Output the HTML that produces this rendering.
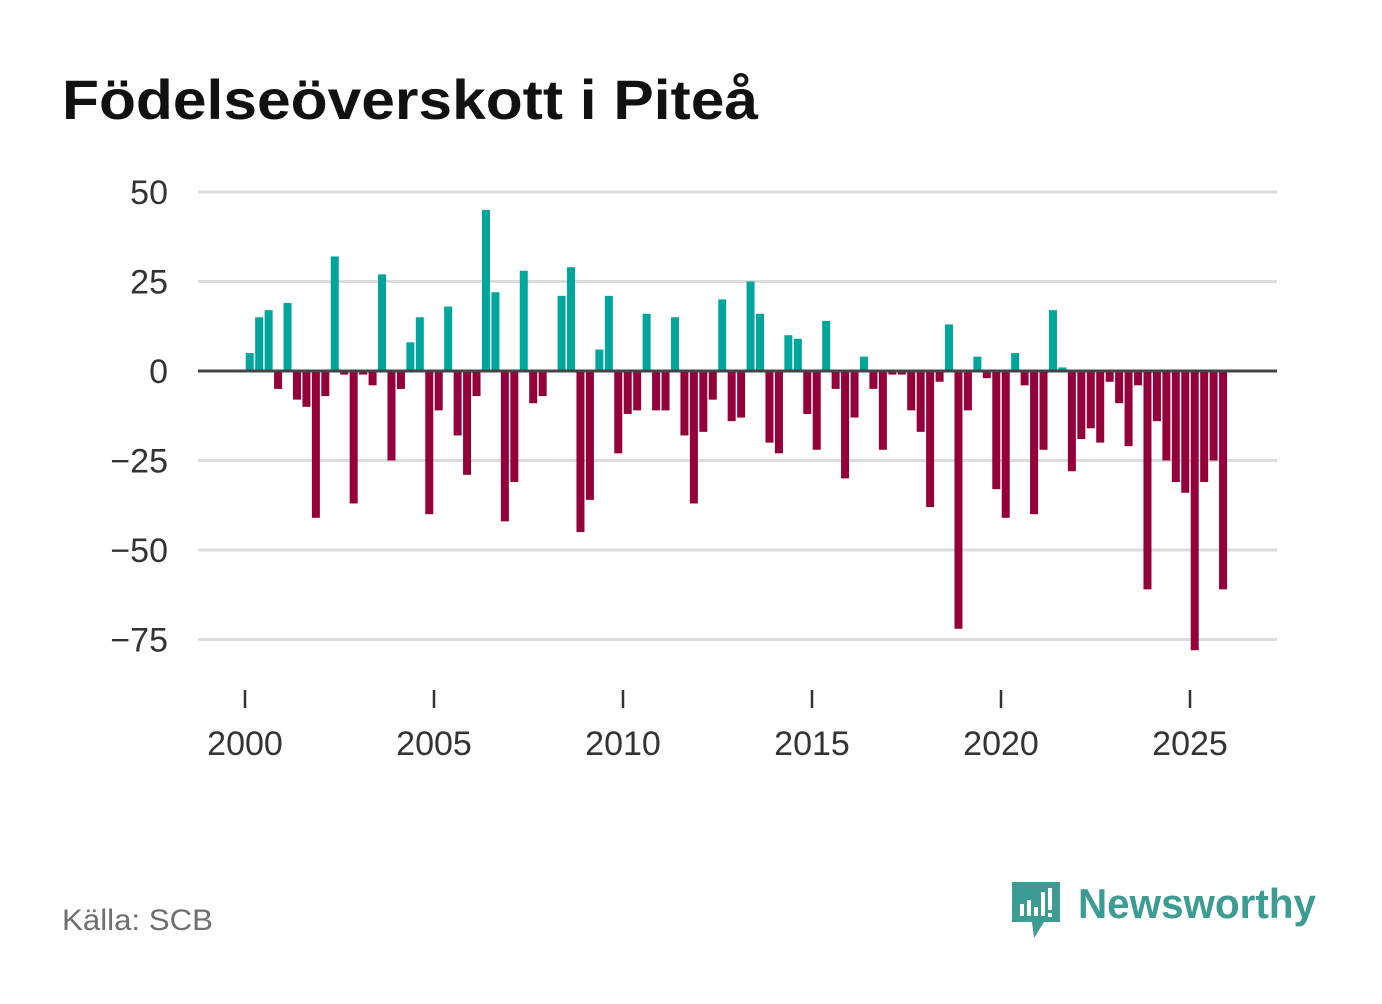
<!DOCTYPE html>
<html><head><meta charset="utf-8"><style>
body{margin:0;background:#fff;width:1382px;height:999px;overflow:hidden;font-family:"Liberation Sans",sans-serif}
</style></head><body>
<svg width="1382" height="999" viewBox="0 0 1382 999">
<text x="62" y="119" font-size="56" font-weight="bold" fill="#111" textLength="696" lengthAdjust="spacingAndGlyphs">Födelseöverskott i Piteå</text>
<g id="grid"></g><g id="bars"></g><g id="axes"></g>
<text x="62" y="930" font-size="30" fill="#6e6e73" textLength="151" lengthAdjust="spacingAndGlyphs">Källa: SCB</text>
<g>
<path d="M1012 882 h48 v40 h-16 l-10 16 l-2 -16 h-20 z" fill="#3c9b93"/>
<rect x="1020" y="904" width="4" height="12" fill="#fff"/><rect x="1027" y="900" width="4" height="16" fill="#fff"/><rect x="1034" y="907" width="4" height="9" fill="#fff"/><rect x="1041" y="892" width="4" height="24" fill="#fff"/><rect x="1048" y="888" width="4" height="22" fill="#fff"/><rect x="1048" y="913" width="4" height="4" fill="#fff"/>
<text x="1078" y="918" font-size="42" font-weight="bold" fill="#3c9b93" textLength="238" lengthAdjust="spacingAndGlyphs">Newsworthy</text>
</g>
</svg>
<script>
const years=[2000,2001,2002,2003,2004,2005,2006,2007,2008,2009,2010,2011,2012,2013,2014,2015,2016,2017,2018,2019,2020,2021,2022,2023,2024,2025];
const values=[5,15,17,-5, 19,-8,-10,-41, -7,32,-1,-37, -1,-4,27,-25, -5,8,15,-40, -11,18,-18,-29, -7,45,22,-42, -31,28,-9,-7, 0,21,29,-45, -36,6,21,-23, -12,-11,16,-11, -11,15,-18,-37, -17,-8,20,-14, -13,25,16,-20, -23,10,9,-12, -22,14,-5,-30, -13,4,-5,-22, -1,-1,-11,-17, -38,-3,13,-72, -11,4,-2,-33, -41,5,-4,-40, -22,17,1,-28, -19,-16,-20,-3, -9,-21,-4,-61, -14,-25,-31,-34, -78,-31,-25,-61];
const yTicks=[50,25,0,-25,-50,-75];
const yTickLabels=["50","25","0","−25","−50","−75"];
const xTicks=[2000,2005,2010,2015,2020,2025];
const NS="http://www.w3.org/2000/svg";
const X=t=>245+(t-2000)*37.8;
const Y=v=>371-v*3.58;
function mk(tag,attrs,parent){const e=document.createElementNS(NS,tag);for(const k in attrs)e.setAttribute(k,attrs[k]);parent.appendChild(e);return e;}
const grid=document.getElementById('grid'),bars=document.getElementById('bars'),axes=document.getElementById('axes');
yTicks.forEach((v,i)=>{
 if(v!==0){const l=mk('line',{x1:198,x2:1277,y1:Y(v),y2:Y(v),stroke:'#dcdcdc','stroke-width':3},grid);
 
 }
 const t=mk('text',{x:168,y:Y(v)+12,'text-anchor':'end','font-size':34,fill:'#333'},axes);t.textContent=yTickLabels[i];
 
 
});
values.forEach((v,i)=>{
 const t=2000+Math.floor(i/4)+((i%4)+0.5)/4;
 const x=X(t)-4;
 const r=mk('rect',{x:x,y:Math.min(Y(v),Y(0)),width:8,height:Math.abs(Y(v)-Y(0)),fill:v>=0?'#00a59b':'#93003a'},bars);
 
 
});
const z=mk('line',{x1:198,x2:1277,y1:Y(0),y2:Y(0),stroke:'#444','stroke-width':3},axes);


xTicks.forEach(yr=>{
 const l=mk('line',{x1:X(yr),x2:X(yr),y1:690,y2:708,stroke:'#333','stroke-width':2.5},axes);
 
 
 const t=mk('text',{x:X(yr),y:755,'text-anchor':'middle','font-size':34,fill:'#333'},axes);t.textContent=yr;
 
 
});
</script>
</body></html>
